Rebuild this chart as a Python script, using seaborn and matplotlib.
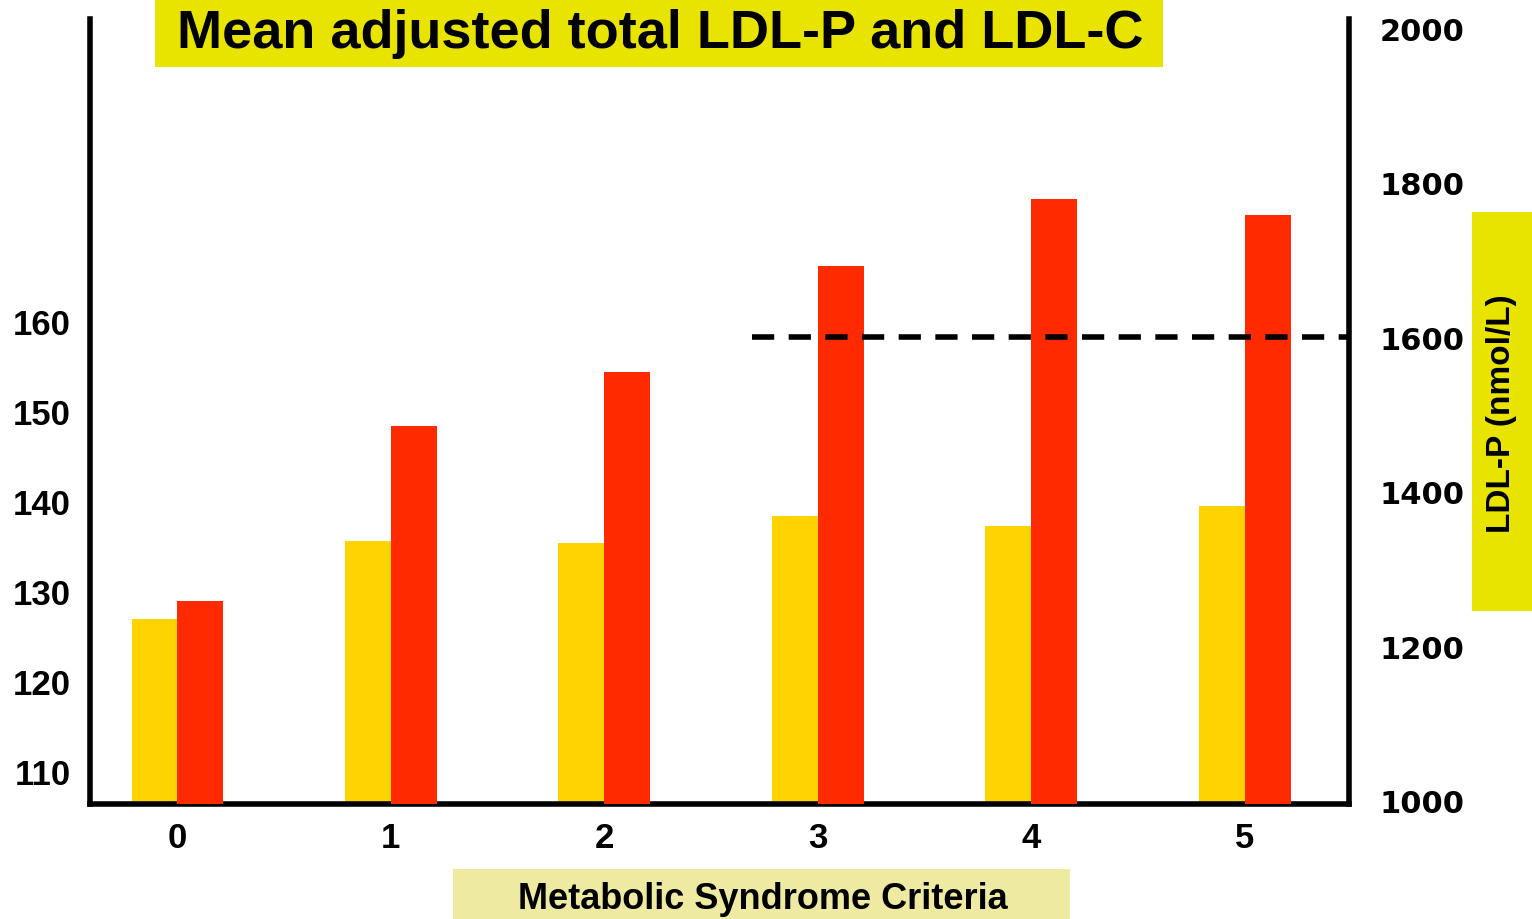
import pandas as pd
import matplotlib.pyplot as plt
import seaborn as sns
from matplotlib.patches import Rectangle

# values
criteria = ['0', '1', '2', '3', '4', '5']
ldl_c = [126.9, 135.6, 135.3, 138.3, 137.2, 139.5]      # mg/dL, left axis
ldl_p = [1259, 1486, 1555, 1693, 1779, 1759]            # nmol/L, right axis
left_ticks = [110, 120, 130, 140, 150, 160]
right_ticks = [1000, 1200, 1400, 1600, 1800, 2000]
cutoff = 1600
cutoff_start = 2.69

sns.set_theme(style='white')
plt.rcParams['font.family'] = ['Liberation Sans', 'DejaVu Sans']
plt.rcParams['text.color'] = 'black'
plt.rcParams['xtick.color'] = 'black'
plt.rcParams['ytick.color'] = 'black'

df_c = pd.DataFrame({'criteria': criteria, 'series': 'LDL-C', 'value': ldl_c})
df_p = pd.DataFrame({'criteria': criteria, 'series': 'LDL-P', 'value': ldl_p})
order = ['LDL-C', 'LDL-P']
pal = {'LDL-C': '#FFD300', 'LDL-P': '#FF2A00'}

fig = plt.figure(figsize=(15.32, 9.2), dpi=100)
ax = fig.add_axes([0.0587, 0.125, 0.822, 0.853])

sns.barplot(data=df_c, x='criteria', y='value', hue='series', hue_order=order,
            palette=pal, width=0.43, dodge=True, ax=ax, legend=False, saturation=1,
            linewidth=0)
ax.set_ylim(106.3, 193.6)
ax.set_xlim(-0.41, 5.49)

ax2 = ax.twinx()
sns.barplot(data=df_p, x='criteria', y='value', hue='series', hue_order=order,
            palette=pal, width=0.43, dodge=True, ax=ax2, legend=False, saturation=1,
            linewidth=0)
ax2.set_ylim(996, 2012)
ax2.set_xlim(-0.41, 5.49)
ax2.hlines(cutoff, cutoff_start, 5.49, colors='black', linestyles=(0, (4, 2.6)),
           linewidth=4, zorder=5)

for a in (ax, ax2):
    a.set_xlabel('')
    a.set_ylabel('')
    for s in a.spines.values():
        s.set_visible(False)
    a.grid(False)

ax.spines['left'].set_visible(True)
ax.spines['bottom'].set_visible(True)
ax2.spines['right'].set_visible(True)
for a, side in ((ax, 'left'), (ax, 'bottom'), (ax2, 'right')):
    a.spines[side].set_linewidth(4)
    a.spines[side].set_color('black')

ax.set_yticks(left_ticks)
ax.set_yticklabels([str(t) for t in left_ticks], fontsize=25, fontweight='bold')
ax.tick_params(axis='y', length=0, pad=14)
ax.set_xticks(range(len(criteria)))
ax.set_xticklabels(criteria, fontsize=25, fontweight='bold')
ax.tick_params(axis='x', length=0, pad=12)

ax2.set_yticks(right_ticks)
ax2.set_yticklabels([str(t) for t in right_ticks], fontsize=22, fontweight='bold',
                    family=['DejaVu Sans'])
ax2.tick_params(axis='y', length=0, pad=22)

# label boxes
fig.patches.append(Rectangle((0.1012, 0.926), 0.658, 0.074, transform=fig.transFigure,
                             facecolor='#E8E400', edgecolor='none', zorder=0))
fig.patches.append(Rectangle((0.2957, 0.0), 0.4027, 0.0543, transform=fig.transFigure,
                             facecolor='#EEEAA2', edgecolor='none', zorder=0))
fig.patches.append(Rectangle((0.961, 0.335), 0.039, 0.434, transform=fig.transFigure,
                             facecolor='#E8E400', edgecolor='none', zorder=0))

fig.text(0.431, 0.963, 'Mean adjusted total LDL-P and LDL-C', ha='center', va='center',
         fontsize=39, fontweight='bold')
fig.text(0.498, 0.022, 'Metabolic Syndrome Criteria', ha='center', va='center',
         fontsize=26, fontweight='bold')
fig.text(0.980, 0.55, 'LDL-P (nmol/L)', ha='center', va='center', rotation=90,
         fontsize=24, fontweight='bold')

fig.savefig('out.png', dpi=100)
